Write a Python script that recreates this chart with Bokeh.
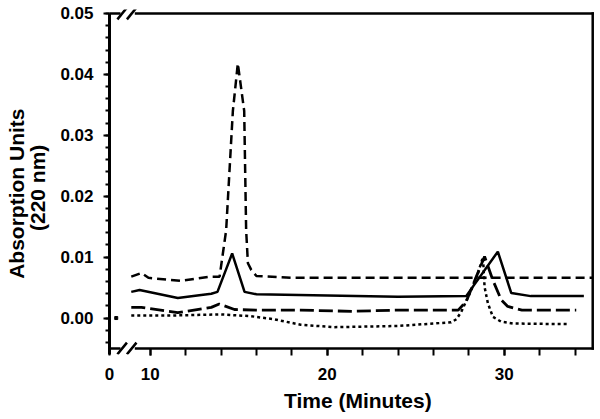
import numpy as np
from bokeh.plotting import figure
from bokeh.models import Range1d, FixedTicker, PrintfTickFormatter
from bokeh.embed import file_html
from bokeh.resources import INLINE

FONT = "Liberation Sans"
NB = "\u00a0"

# ---------------- data ----------------
# broken time axis: the "0" sits at the left edge, the scale proper starts near 10
X_BREAK_START = 7.7
X_END = 35.0
Y_LO, Y_HI = -0.005, 0.05

x_major = [10, 20, 30]
x_minor = [10, 12, 14, 16, 18, 20, 22, 24, 26, 28, 30, 32, 34]
y_major = [0.00, 0.01, 0.02, 0.03, 0.04, 0.05]
y_minor = [round(-0.004 + 0.002 * i, 3) for i in range(28)]

# short-dashed trace (large peak ~15 min)
tA = [8.93, 9.5, 9.9, 11.75, 13.4, 13.92, 14.29, 14.67, 14.95, 15.31, 15.42,
      15.52, 15.71, 16.0, 18.0, 22.0, 26.0, 30.0, 35.0]
yA = [0.0068, 0.0074, 0.0066, 0.0061, 0.0068, 0.0068, 0.0144, 0.0340, 0.0418,
      0.0340, 0.0144, 0.0090, 0.0079, 0.0069, 0.0066, 0.0066, 0.0066, 0.0066, 0.0066]

# solid trace
tB = [8.93, 9.4, 11.56, 12.88, 13.45, 13.8, 14.63, 15.33, 16.0, 20.0, 24.0,
      27.85, 29.64, 30.4, 31.5, 34.5]
yB = [0.0043, 0.0046, 0.0033, 0.0038, 0.0040, 0.0043, 0.0106, 0.0043, 0.0039,
      0.0037, 0.0035, 0.0036, 0.0109, 0.0041, 0.0036, 0.0036]

# long-dashed trace
tC = [8.93, 9.5, 11.56, 13.45, 13.9, 14.76, 16.0, 18.5, 21.4, 24.0, 27.4, 27.85,
      28.89, 29.36, 29.83, 30.2, 31.0, 34.07]
yC = [0.00175, 0.00175, 0.0009, 0.00175, 0.0023, 0.0014, 0.0013, 0.0013, 0.0011,
      0.0013, 0.0013, 0.0027, 0.0101, 0.0062, 0.0030, 0.0019, 0.0013, 0.0013]

# dotted trace
tD = [8.93, 11.0, 14.0, 15.7, 17.0, 18.5, 20.4, 24.0, 27.0, 27.3, 27.57, 28.14,
      28.51, 28.8, 28.89, 29.08, 29.36, 29.83, 30.5, 33.6]
yD = [0.0004, 0.0004, 0.0006, 0.0003, -0.0002, -0.0011, -0.0015, -0.0013, -0.0007,
      -0.0002, 0.0010, 0.0046, 0.0073, 0.0100, 0.0051, 0.0024, 0.0002, -0.0006,
      -0.0009, -0.0010]

# isolated point of the dotted trace before the break
tD0 = [8.08]
yD0 = [0.0]

# ---------------- layout constants ----------------
PX_X = 17.7          # pixels per minute
PX_Y = 6091.0        # pixels per absorbance unit
FRAME_W, FRAME_H = 485, 345
x_rng = Range1d(X_BREAK_START, X_BREAK_START + FRAME_W / PX_X)
y_rng = Range1d(Y_LO - 6 / PX_Y, Y_LO - 6 / PX_Y + FRAME_H / PX_Y)

p = figure(frame_width=FRAME_W, frame_height=FRAME_H,
           min_border_left=109, min_border_right=4, min_border_top=9, min_border_bottom=65,
           x_range=x_rng, y_range=y_rng,
           output_backend="svg", toolbar_location=None)
p.xgrid.visible = False
p.ygrid.visible = False
p.outline_line_color = None
p.background_fill_color = "white"
p.border_fill_color = "white"

p.line(tA, yA, line_color="black", line_width=2.5, line_dash="9 5")
p.line(tB, yB, line_color="black", line_width=2.5)
p.line(tC, yC, line_color="black", line_width=2.8, line_dash="14 5")
p.line(tD, yD, line_color="black", line_width=2.5, line_dash="3 3")
p.scatter(tD0, yD0, marker="square", size=3, color="black")

# frame box (top, bottom, right) with the axis-break marks
b0, b1 = 8.25, 9.2
s1 = (8.19, 8.64)
s2 = (8.73, 9.18)
dy = 0.0008
fx0, fy0, fx1, fy1 = [], [], [], []
for yy in (Y_LO, Y_HI):
    for a, b, c, d in ((X_BREAK_START, yy, b0, yy), (b1, yy, X_END, yy),
                       (s1[0], yy - dy, s1[1], yy + dy), (s2[0], yy - dy, s2[1], yy + dy)):
        fx0.append(a); fy0.append(b); fx1.append(c); fy1.append(d)
fx0.append(X_END); fy0.append(Y_LO); fx1.append(X_END); fy1.append(Y_HI)
p.segment(fx0, fy0, fx1, fy1, line_color="black", line_width=2.5, line_cap="square")

# x axis
xa = p.xaxis[0]
xa.ticker = FixedTicker(ticks=[X_BREAK_START] + x_major, minor_ticks=x_minor)
xa.major_label_overrides = {X_BREAK_START: "0"}
xa.axis_line_color = None
xa.major_tick_line_width = 2
xa.minor_tick_line_width = 2
xa.major_tick_out = 1
xa.major_tick_in = 6
xa.minor_tick_out = 1
xa.minor_tick_in = 6
xa.major_label_standoff = 12
xa.major_label_text_font = FONT
xa.major_label_text_font_style = "bold"
xa.major_label_text_font_size = "17px"
xa.major_label_text_color = "black"
xa.axis_label = NB * 2 + "Time (Minutes)"
xa.axis_label_text_font = FONT
xa.axis_label_text_font_style = "bold"
xa.axis_label_text_font_size = "21px"
xa.axis_label_text_color = "black"
xa.axis_label_standoff = 6

# y axis
ya = p.yaxis[0]
ya.ticker = FixedTicker(ticks=y_major, minor_ticks=y_minor)
ya.formatter = PrintfTickFormatter(format="%.2f")
ya.bounds = (y_rng.start, Y_HI)
ya.axis_line_width = 3
ya.axis_line_color = "black"
ya.major_tick_line_width = 2
ya.minor_tick_line_width = 2
ya.major_tick_out = 6
ya.major_tick_in = 0
ya.minor_tick_out = 4
ya.minor_tick_in = 0
ya.major_label_standoff = 10
ya.major_label_text_font = FONT
ya.major_label_text_font_style = "bold"
ya.major_label_text_font_size = "17px"
ya.major_label_text_color = "black"
ya.axis_label = "Absorption Units" + NB * 4 + "\n(220 nm)" + NB * 2
ya.axis_label_text_font = FONT
ya.axis_label_text_font_style = "bold"
ya.axis_label_text_font_size = "21px"
ya.axis_label_text_line_height = 0.95
ya.axis_label_text_color = "black"
ya.axis_label_standoff = 8

open("out.html", "w").write(file_html(p, INLINE))
